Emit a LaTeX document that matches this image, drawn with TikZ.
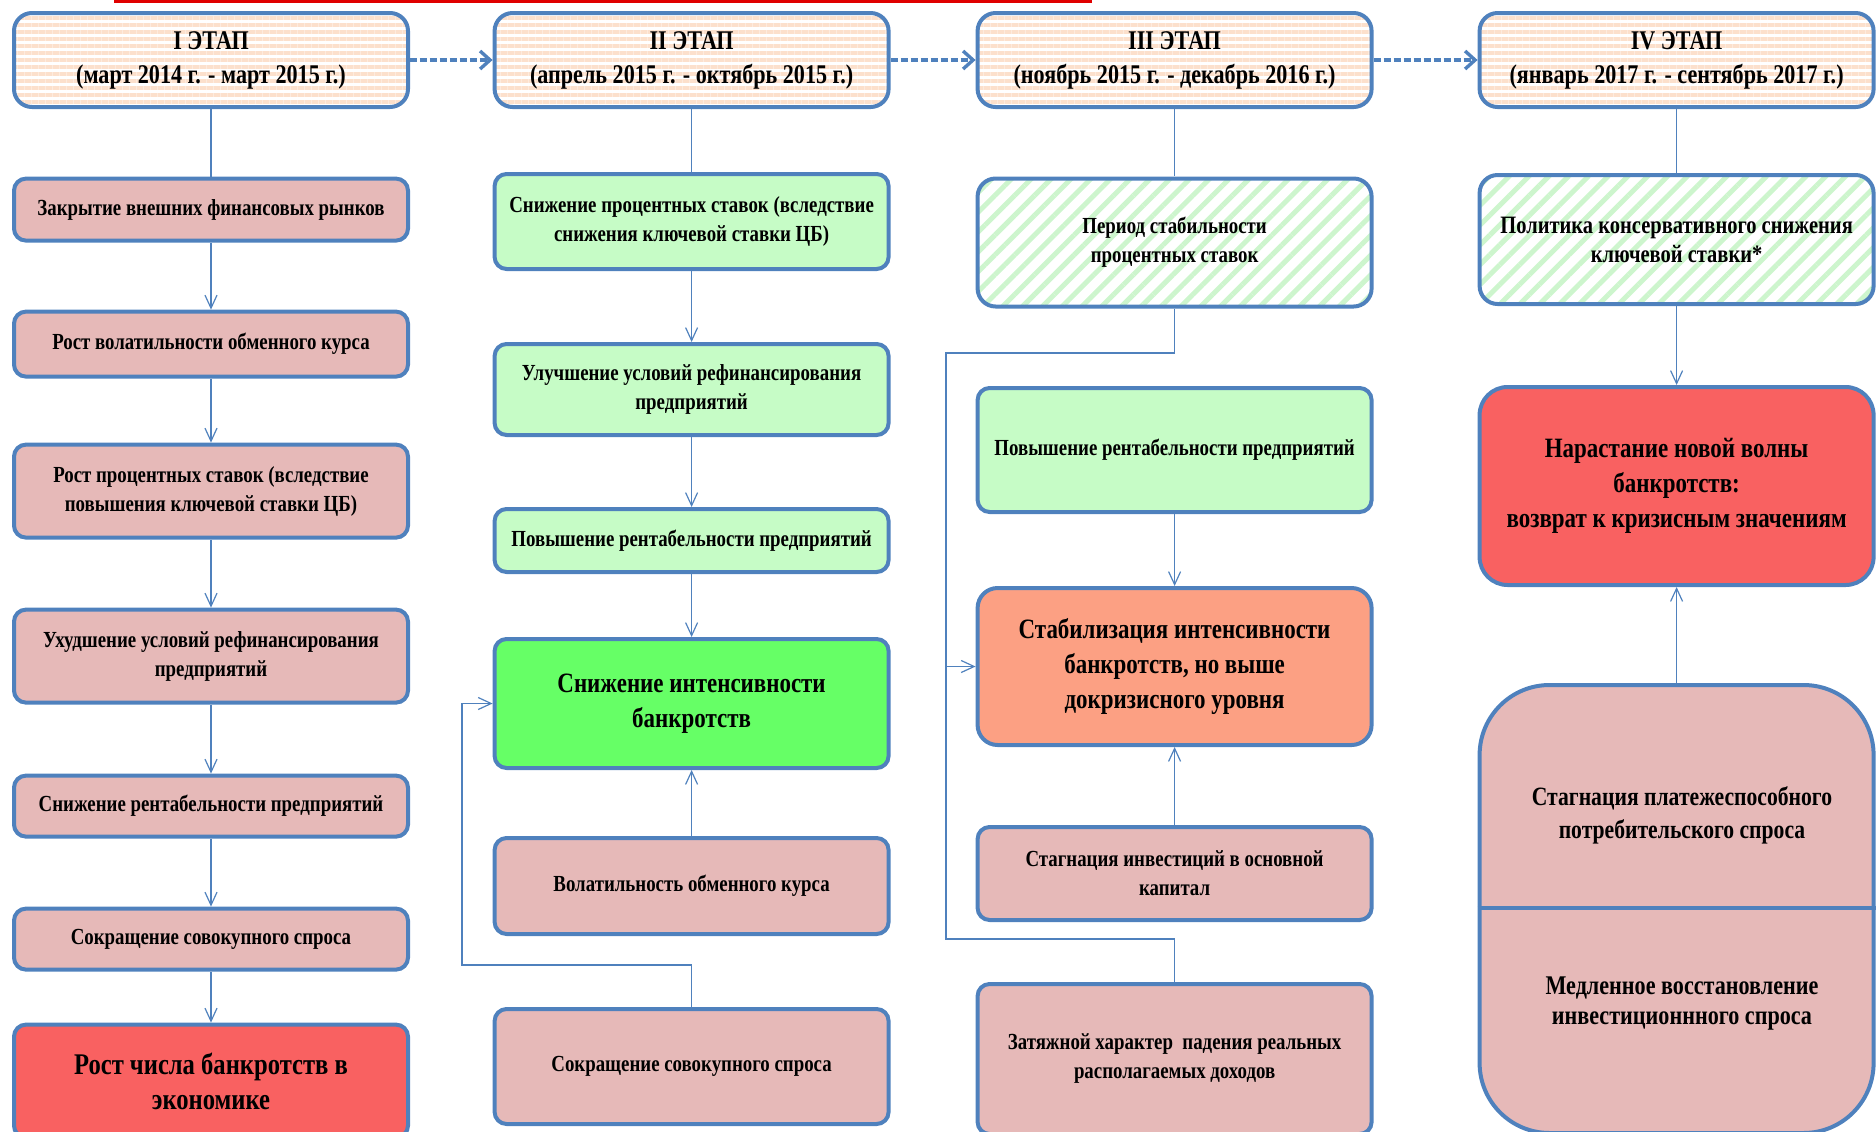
\documentclass[tikz,border=0pt]{standalone}
\usepackage{fontspec}
\setmainfont{Liberation Serif}[FakeStretch=0.82]
\usepackage{xcolor}
\usepackage{tikz}
\usetikzlibrary{arrows.meta,positioning,patterns.meta}

\definecolor{edgeblue}{HTML}{4F81BD}
\definecolor{pinkbox}{HTML}{E6B9B8}
\definecolor{mintbox}{HTML}{C6FCC6}
\definecolor{limebox}{HTML}{66FF66}
\definecolor{redbox}{HTML}{F96161}
\definecolor{salmonbox}{HTML}{FCA083}
\definecolor{peachline}{HTML}{FCE0CC}
\definecolor{hatchgreen}{HTML}{CDF5CD}
\definecolor{topred}{HTML}{E00000}

\begin{document}
\begin{tikzpicture}[x=0.5pt, y=-0.5pt, node distance=34pt,
    box/.style={draw=edgeblue, line width=2pt, rectangle, rounded corners=6pt, minimum width=197pt, inner sep=2pt, align=center, font=\bfseries\fontsize{11.5}{14.5}\selectfont},
    stage/.style={box, rounded corners=9pt, minimum height=47pt, pattern={Lines[angle=0,distance=3.5pt,line width=1.6pt]}, pattern color=peachline, font=\bfseries\fontsize{13.5}{17}\selectfont},
    cause/.style={box, fill=pinkbox},
    gain/.style={box, fill=mintbox},
    calm/.style={box, rounded corners=9pt, pattern={Lines[angle=45,distance=7pt,line width=2.5pt]}, pattern color=hatchgreen},
    result/.style={box, font=\bfseries\fontsize{14}{17.5}\selectfont},
    link/.style={draw=edgeblue, line width=0.6pt, -{Straight Barb[length=6.5pt,width=6pt]}},
    wire/.style={draw=edgeblue, line width=0.6pt},
    jump/.style={draw=edgeblue, line width=1.7pt, dash pattern=on 3.5pt off 1.5pt, -{Straight Barb[length=5pt,width=9pt]}}
]
    \useasboundingbox (0,0) rectangle (1876,1131);
    \clip (0,0) rectangle (1876,1131);

    % Stages
    \node[stage] (st1) at (211,60) {I ЭТАП\\(март 2014 г. - март 2015 г.)};
    \node[stage, right=41.5pt of st1] (st2) {II ЭТАП\\(апрель 2015 г. - октябрь 2015 г.)};
    \node[stage, right=42.5pt of st2] (st3) {III ЭТАП\\(ноябрь 2015 г. - декабрь 2016 г.)};
    \node[stage, right=52pt of st3] (st4) {IV ЭТАП\\(январь 2017 г. - сентябрь 2017 г.)};

    % Stage I
    \node[cause, minimum height=31pt, below=of st1] (c1a) {Закрытие внешних финансовых рынков};
    \node[cause, minimum height=32.5pt, below=33.5pt of c1a] (c1b) {Рост волатильности обменного курса};
    \node[cause, minimum height=46.5pt, below=32pt of c1b] (c1c) {Рост процентных ставок (вследствие\\повышения ключевой ставки ЦБ)};
    \node[cause, minimum height=46.5pt, below=of c1c] (c1d) {Ухудшение условий рефинансирования\\предприятий};
    \node[cause, minimum height=30.5pt, below=34.5pt of c1d] (c1e) {Снижение рентабельности предприятий};
    \node[cause, minimum height=30.5pt, below=of c1e] (c1f) {Сокращение совокупного спроса};
    \node[result, fill=redbox, minimum height=56.5pt, below=25.5pt of c1f, font=\bfseries\fontsize{15}{17.5}\selectfont] (c1g) {Рост числа банкротств в\\экономике};

    % Stage II
    \node[gain, minimum height=47.5pt, below=31.5pt of st2] (c2a) {Снижение процентных ставок (вследствие\\снижения ключевой ставки ЦБ)};
    \node[gain, minimum height=45.5pt, below=35.5pt of c2a] (c2b) {Улучшение условий рефинансирования\\предприятий};
    \node[gain, minimum height=31.5pt, below=35pt of c2b] (c2c) {Повышение рентабельности предприятий};
    \node[result, fill=limebox, minimum height=64.5pt, below=31.5pt of c2c] (c2d) {Снижение интенсивности\\банкротств};
    \node[cause, minimum height=48pt, below=33pt of c2d] (c2e) {Волатильность обменного курса};
    \node[cause, minimum height=57.5pt, below=35.5pt of c2e] (c2f) {Сокращение совокупного спроса};

    % Stage III
    \node[calm, minimum height=64pt, below=33.5pt of st3] (c3a) {Период стабильности\\процентных ставок};
    \node[gain, minimum height=62pt, below=38.5pt of c3a] (c3b) {Повышение рентабельности предприятий};
    \node[result, fill=salmonbox, rounded corners=10pt, minimum height=78.5pt, below=36pt of c3b] (c3c) {Стабилизация интенсивности\\банкротств, но выше\\докризисного уровня};
    \node[cause, minimum height=46.5pt, below=39pt of c3c] (c3d) {Стагнация инвестиций в основной\\капитал};
    \node[cause, minimum height=75pt, below=30pt of c3d] (c3e) {Затяжной характер\ \ падения реальных\\располагаемых доходов};

    % Stage IV
    \node[calm, minimum height=64.5pt, below=32pt of st4, font=\bfseries\fontsize{12.5}{14.5}\selectfont] (c4a) {Политика консервативного снижения\\ключевой ставки*};
    \node[result, fill=redbox, rounded corners=14pt, minimum height=99pt, below=39.5pt of c4a] (c4b) {Нарастание новой волны\\банкротств:\\возврат к кризисным значениям};
    \node[box, fill=pinkbox, rounded corners=35pt, minimum height=224pt, below=48pt of c4b] (c4c) {};
    \coordinate (split4) at (1682,908);
    \draw[edgeblue, line width=2pt] (c4c.west |- split4) -- (c4c.east |- split4);
    \node[align=center, font=\bfseries\fontsize{13.2}{16.5}\selectfont] (c4d) at (1682,815) {Стагнация платежеспособного\\потребительского спроса};
    \node[align=center, font=\bfseries\fontsize{13.5}{15}\selectfont] (c4e) at (1682,1004) {Медленное восстановление\\инвестиционнного спроса};

    % Connections
    \draw[jump] (st1) -- (st2);
    \draw[jump] (st2) -- (st3);
    \draw[jump] (st3) -- (st4);

    \draw[wire] (st1.south) -- (c1a.north);
    \draw[link] (c1a) -- (c1b);
    \draw[link] (c1b) -- (c1c);
    \draw[link] (c1c) -- (c1d);
    \draw[link] (c1d) -- (c1e);
    \draw[link] (c1e) -- (c1f);
    \draw[link] (c1f) -- (c1g);

    \draw[wire] (st2.south) -- (c2a.north);
    \draw[link] (c2a) -- (c2b);
    \draw[link] (c2b) -- (c2c);
    \draw[link] (c2c) -- (c2d);
    \draw[link] (c2e) -- (c2d);
    \coordinate (loop2) at (462,965);
    \draw[link] (c2f.north) |- (loop2) |- (c2d.west);

    \draw[wire] (st3.south) -- (c3a.north);
    \coordinate (bus3top) at (946,353);
    \coordinate (bus3end) at (946,939);
    \draw[wire] (c3a.south) |- (bus3top) -- (bus3end) -| (c3e.north);
    \draw[link] (bus3top |- c3c.west) -- (c3c.west);
    \draw[link] (c3b) -- (c3c);
    \draw[link] (c3d) -- (c3c);

    \draw[wire] (st4.south) -- (c4a.north);
    \draw[link] (c4a) -- (c4b);
    \draw[link] (c4c) -- (c4b);

    \draw[topred, line width=3pt] (114,0) -- (1092,0);
\end{tikzpicture}
\end{document}
